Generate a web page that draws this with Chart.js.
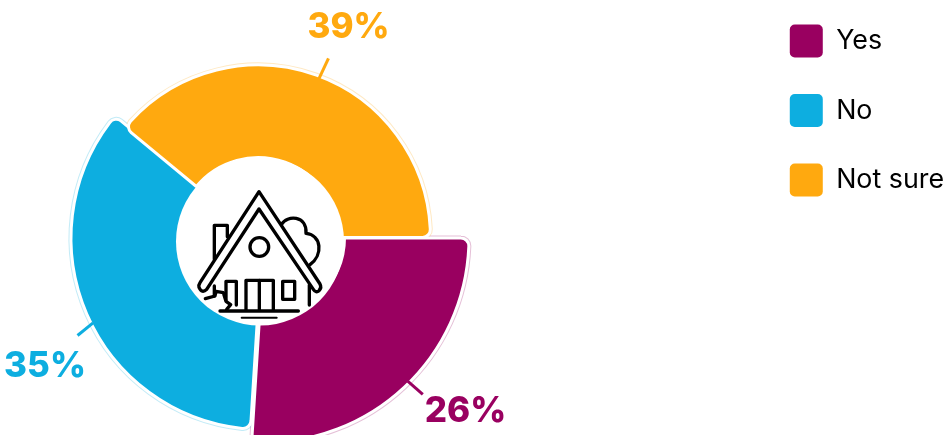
<!DOCTYPE html>
<html>
<head>
<meta charset="utf-8">
<title>Survey</title>
<style>
  html, body { margin: 0; padding: 0; background: #fff; overflow: hidden; }
  canvas { display: block; }
</style>
<script src="https://cdn.jsdelivr.net/npm/chart.js@4/dist/chart.umd.min.js"></script>
</head>
<body>
<canvas id="pie" width="943" height="435"></canvas>
<script>
const answers = ["Yes", "No", "Not sure"];
const shares = [26, 35, 39];
const colors = ["#990060", "#0daee0", "#ffa90f"];
const halos = ["rgba(153,0,96,.25)", "rgba(13,174,224,.25)", "rgba(255,169,15,.25)"];

// each slice has its own radius and a slightly different centre
const sliceShape = [
  { x: 264.5, y: 238, r: 204.5 },
  { x: 262.5, y: 238, r: 191.5 },
  { x: 258, y: 237.5, r: 172.5 }
];
const holeCenter = { x: 260, y: 241.5, r: 84 };

// leader ticks (degrees off the slice middle, degrees of lean, length) and label anchors
const leaders = [
  { nudge: -1.8, tilt: -5.8, len: 20, tx: 465.5, ty: 411 },
  { nudge: -3.2, tilt: -15.7, len: 20, tx: 45, ty: 366 },
  { nudge: 1.2, tilt: 5.4, len: 22, tx: 348.5, ty: 27 }
];

const rad = d => d * Math.PI / 180;

// shape slices after the controller has placed them
const shapeSlices = {
  id: "shapeSlices",
  afterDatasetsUpdate(chart) {
    chart.getDatasetMeta(0).data.forEach((arc, i) => {
      arc.x = sliceShape[i].x;
      arc.y = sliceShape[i].y;
      arc.outerRadius = sliceShape[i].r;
      arc.innerRadius = 80;
    });
  },
  beforeDatasetsDraw(chart) {
    const ctx = chart.ctx;
    chart.getDatasetMeta(0).data.forEach((arc, i) => {
      const o = arc.options;
      arc.options = Object.assign({}, o, { borderColor: halos[i], borderWidth: 5, backgroundColor: "#fff" });
      arc.draw(ctx);
      arc.options = o;
    });
  },
  afterDatasetsDraw(chart) {
    const ctx = chart.ctx;
    ctx.save();
    ctx.fillStyle = "#fff";
    ctx.beginPath();
    ctx.arc(holeCenter.x, holeCenter.y, holeCenter.r, 0, Math.PI * 2);
    ctx.fill();
    ctx.restore();

    chart.getDatasetMeta(0).data.forEach((arc, i) => {
      const mid = (arc.startAngle + arc.endAngle) / 2;
      const l = leaders[i];
      const r = arc.outerRadius - 2;
      const sx = arc.x + Math.cos(mid + rad(l.nudge)) * r;
      const sy = arc.y + Math.sin(mid + rad(l.nudge)) * r;
      ctx.save();
      ctx.strokeStyle = colors[i];
      ctx.lineWidth = 3;
      ctx.beginPath();
      ctx.moveTo(sx, sy);
      ctx.lineTo(sx + Math.cos(mid + rad(l.tilt)) * l.len, sy + Math.sin(mid + rad(l.tilt)) * l.len);
      ctx.stroke();
      ctx.fillStyle = colors[i];
      ctx.font = "800 35px Inter";
      ctx.textAlign = "center";
      ctx.textBaseline = "middle";
      ctx.fillText(shares[i] + "%", l.tx, l.ty);
      ctx.restore();
    });

    drawHouse(ctx);
  }
};

// house icon in the hole of the ring
function drawHouse(ctx) {
  ctx.save();
  ctx.translate(170, 170);
  ctx.scale(1 / 3, 1 / 3);
  ctx.strokeStyle = "#000";
  ctx.lineWidth = 10;
  ctx.lineJoin = "round";
  ctx.lineCap = "round";
  const line = pts => {
    ctx.beginPath();
    pts.forEach((p, i) => i ? ctx.lineTo(p[0], p[1]) : ctx.moveTo(p[0], p[1]));
    ctx.stroke();
  };
  // roof band with rounded ends
  ctx.beginPath();
  ctx.moveTo(267, 117);
  ctx.lineTo(110, 358);
  ctx.quadraticCurveTo(96, 372, 87, 352);
  ctx.quadraticCurveTo(85, 345, 90, 338);
  ctx.lineTo(267, 65);
  ctx.lineTo(450, 342);
  ctx.quadraticCurveTo(456, 352, 447, 362);
  ctx.quadraticCurveTo(438, 370, 430, 358);
  ctx.closePath();
  ctx.stroke();
  line([[133, 268], [133, 166], [172, 166], [172, 200]]);
  line([[133, 348], [133, 378]]);
  line([[418, 345], [418, 405]]);
  line([[168, 390], [168, 334], [199, 334], [199, 405]]);
  line([[338, 334], [374, 334], [374, 388], [338, 388], [338, 334]]);
  line([[228, 420], [228, 331], [310, 331], [310, 420]]);
  line([[268, 331], [268, 420]]);
  line([[150, 423], [385, 423]]);
  ctx.beginPath();
  ctx.arc(268, 231, 28, 0, Math.PI * 2);
  ctx.stroke();
  // tree behind the roof
  ctx.beginPath();
  ctx.moveTo(335, 163);
  ctx.bezierCurveTo(350, 135, 412, 135, 408, 190);
  ctx.bezierCurveTo(455, 195, 460, 255, 420, 284);
  ctx.stroke();
  // shrub by the wall
  line([[106, 386], [135, 378], [138, 364], [160, 368], [168, 394], [182, 404], [170, 418]]);
  // shadow under the ground line
  ctx.lineWidth = 6;
  line([[215, 443], [320, 443]]);
  ctx.restore();
}

new Chart(document.getElementById("pie"), {
  type: "doughnut",
  data: {
    labels: answers,
    datasets: [{
      data: shares,
      backgroundColor: colors,
      borderColor: "#fff",
      borderWidth: 3,
      borderRadius: { outerStart: 8, outerEnd: 8, innerStart: 0, innerEnd: 0 },
      clip: false
    }]
  },
  options: {
    responsive: false,
    animation: false,
    rotation: 90,
    layout: { padding: { top: -12, right: -11 } },
    plugins: {
      tooltip: { enabled: false },
      legend: {
        position: "right",
        align: "start",
        labels: {
          color: "#111",
          boxWidth: 33,
          boxHeight: 33,
          padding: 36.5,
          useBorderRadius: true,
          borderRadius: 5,
          font: { family: "Inter", size: 26.8 },
          generateLabels() {
            return answers.map((a, i) => ({
              text: a,
              fillStyle: colors[i],
              strokeStyle: colors[i],
              lineWidth: 0,
              borderRadius: 5,
              index: i
            }));
          }
        }
      }
    }
  },
  plugins: [shapeSlices]
});
</script>
</body>
</html>
